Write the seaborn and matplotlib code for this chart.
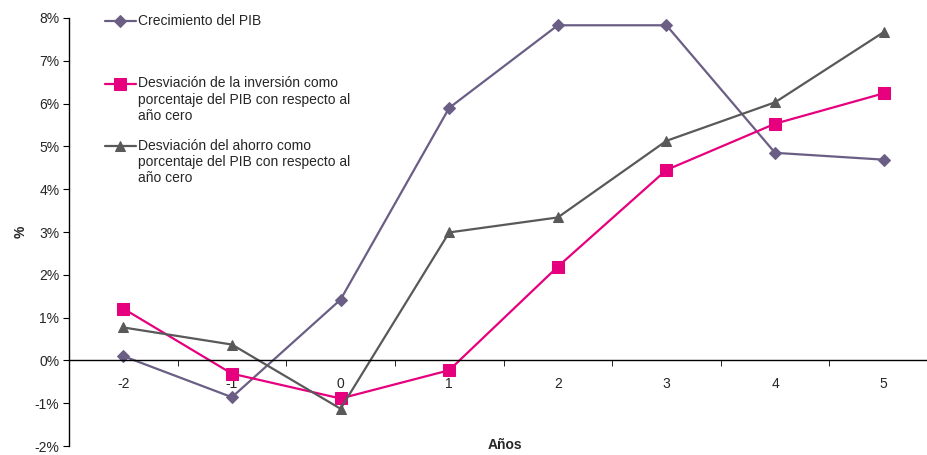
import numpy as np
import pandas as pd
import matplotlib
matplotlib.use("Agg")
import matplotlib.pyplot as plt
import seaborn as sns
from matplotlib.ticker import FixedLocator, FuncFormatter
from matplotlib.legend_handler import HandlerLine2D

# datos (en %)
anios = [-2, -1, 0, 1, 2, 3, 4, 5]
crecimiento_pib = [0.10, -0.86, 1.42, 5.90, 7.83, 7.83, 4.85, 4.69]
desv_inversion = [1.21, -0.31, -0.89, -0.23, 2.19, 4.45, 5.53, 6.24]
desv_ahorro = [0.77, 0.37, -1.13, 2.99, 3.34, 5.13, 6.03, 7.67]

series = [
    "Crecimiento del PIB",
    "Desviación de la inversión como\nporcentaje del PIB con respecto al\naño cero",
    "Desviación del ahorro como\nporcentaje del PIB con respecto al\naño cero",
]
colores = ["#6B5E85", "#E6007E", "#595959"]
marcadores = ["D", "s", "^"]
tamanos = [6.5, 9, 7.5]

df = pd.concat([
    pd.DataFrame({"anio": anios, "valor": v, "serie": s})
    for s, v in zip(series, [crecimiento_pib, desv_inversion, desv_ahorro])
])


class HandlerArriba(HandlerLine2D):
    # pone el símbolo a la altura de la primera línea del texto
    def __init__(self, desplaz, **kw):
        super().__init__(**kw)
        self.desplaz = desplaz

    def create_artists(self, legend, orig_handle, xdescent, ydescent, width, height, fontsize, trans):
        arts = super().create_artists(legend, orig_handle, xdescent, ydescent, width, height, fontsize, trans)
        for a in arts:
            a.set_ydata(np.asarray(a.get_ydata()) + self.desplaz * fontsize)
        return arts


sns.set_style("white")
plt.rcParams["font.family"] = ["Liberation Sans", "DejaVu Sans"]

fig = plt.figure(figsize=(9.27, 4.55), dpi=100)
ax = fig.add_axes([69 / 927, 9 / 455, 869 / 927, 428 / 455])

for s, c, m, ms in zip(series, colores, marcadores, tamanos):
    sns.lineplot(data=df[df["serie"] == s], x="anio", y="valor", ax=ax,
                 color=c, marker=m, markersize=ms, markeredgecolor=c,
                 linewidth=1.6, label=s)

ax.set_xlim(-2.5, 5.5)
ax.set_ylim(-2, 8)
ax.set_yticks(np.arange(-2, 9, 1))
ax.yaxis.set_major_formatter(FuncFormatter(lambda v, p: f"{v:.0f}%"))

# eje x sobre el cero, marcas entre categorías
ax.spines["bottom"].set_position(("data", 0))
ax.spines["top"].set_visible(False)
ax.spines["right"].set_visible(False)
for sp in ["left", "bottom"]:
    ax.spines[sp].set_color("black")
    ax.spines[sp].set_linewidth(1)
ax.set_xticks(anios)
ax.set_xticklabels([str(a) for a in anios])
ax.xaxis.set_minor_locator(FixedLocator(np.arange(-1.5, 5.0, 1)))
ax.tick_params(axis="x", which="major", length=0, pad=12, labelsize=10)
ax.tick_params(axis="x", which="minor", length=4, direction="out", color="black", bottom=True)
ax.tick_params(axis="y", length=4, direction="out", color="black", left=True, labelsize=10, pad=3)

ax.set_xlabel("")
ax.set_ylabel("%", fontsize=10, fontweight="bold", labelpad=5)
fig.text(505 / 927, 3 / 455, "Años", ha="center", va="bottom", fontsize=10, fontweight="bold")

handles, _ = ax.get_legend_handles_labels()
etiquetas = [series[0] + "\n\n"] + series[1:]
leg = ax.legend(handles, etiquetas, loc="upper left",
                bbox_to_anchor=(36 / 869, 1 + 4 / 428), frameon=False,
                fontsize=10, handlelength=2.2, handletextpad=0.15,
                labelspacing=1.15, borderpad=0, borderaxespad=0,
                handler_map={h: HandlerArriba(1.2) for h in handles})

fig.savefig("out.png", dpi=100)
